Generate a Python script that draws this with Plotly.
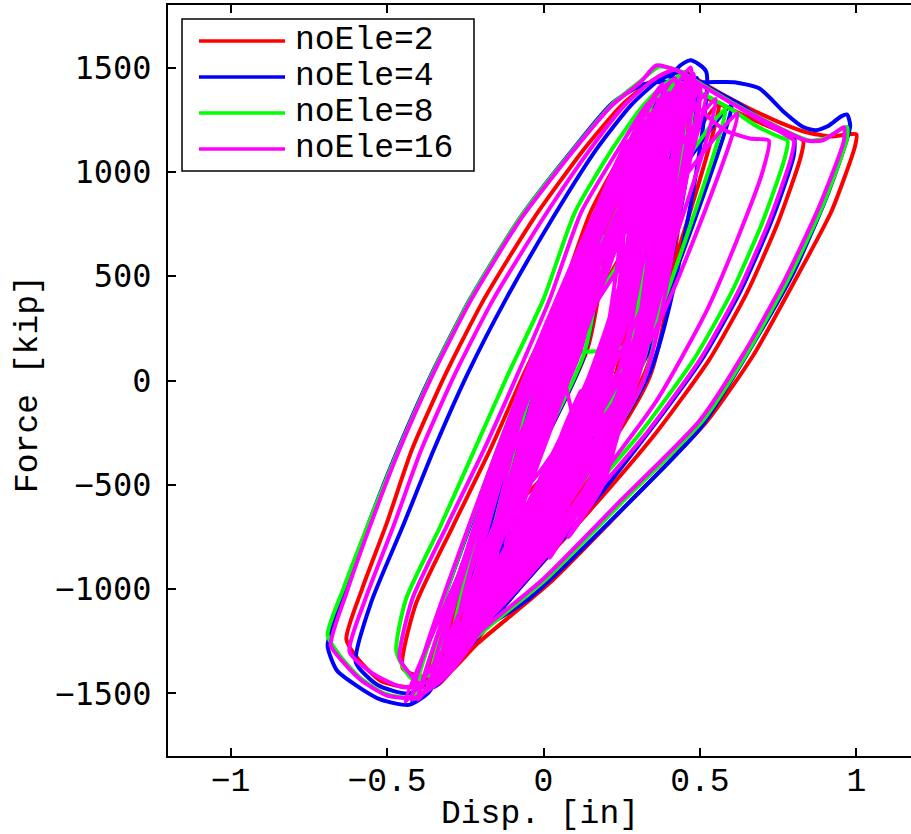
import plotly.graph_objects as go

# ---------------- data ----------------
series_names = ["noEle=2", "noEle=4", "noEle=8", "noEle=16"]
series_colors = ["#FF0000", "#0000FF", "#00FF00", "#FF00FF"]

# (disp [in], force [kip]) hysteresis paths
path_ele2 = [
    (0.00, 0), (0.12, 450), (0.20, 700), (0.14, 150), (-0.06, -450), (0.04, 200), (0.32, 1100),
    (0.24, 150), (-0.16, -900), (0.00, 100), (0.38, 1330), (0.29, 20), (-0.27, -1230), (-0.03, 20),
    (0.44, 1440), (0.33, 60), (-0.30, -1330),
    (-0.38, -1420), (-0.45, -1380), (-0.41, -1080), (-0.29, -700), (-0.17, -330), (-0.06, 40),
    (0.05, 390), (0.15, 805), (0.26, 1110), (0.35, 1320), (0.44, 1430), (0.50, 1370), (0.60, 1300),
    (0.70, 1230), (0.78, 1180), (0.83, 1150), (0.82, 1060), (0.75, 760), (0.65, 420), (0.53, 100),
    (0.36, -250), (0.15, -620), (-0.08, -1000), (-0.24, -1290), (-0.34, -1460),
    (-0.02, 60), (0.46, 1480), (0.34, 20), (-0.36, -1430), (0.01, 120), (0.35, 1320),
    (0.28, -30), (-0.20, -1100), (-0.32, -1380), (-0.42, -1470), (-0.52, -1440), (-0.59, -1340),
    (-0.63, -1240), (-0.58, -1000), (-0.50, -680), (-0.42, -330), (-0.31, 40), (-0.19, 390),
    (-0.03, 780), (0.13, 1110), (0.25, 1320), (0.34, 1430), (0.40, 1480), (0.47, 1460),
    (0.55, 1390), (0.65, 1310), (0.75, 1240), (0.84, 1190), (0.92, 1170), (0.97, 1180),
    (1.00, 1180), (0.995, 1120), (0.92, 810), (0.80, 470), (0.67, 120), (0.52, -200),
    (0.27, -590), (0.02, -970), (-0.21, -1260), (-0.30, -1400), (-0.38, -1480),
    (-0.04, 0), (0.40, 1380), (0.28, 0), (-0.22, -1120), (0.02, 150), (0.30, 1150), (0.20, 50),
    (-0.27, -1310), (0.03, 120), (0.47, 1420), (0.30, 80), (-0.14, -900), (0.07, 200),
    (0.36, 1260), (0.22, -20), (-0.24, -1230), (0.12, 250), (0.56, 1330), (0.36, 300),
    (0.18, -350), (-0.18, -1100), (0.14, -50), (0.43, 1380), (0.29, 100),
    (-0.10, -600), (0.05, 100), (0.15, 400),
]

path_ele4 = [
    (0.00, 0), (0.11, 420), (0.19, 680), (0.13, 120), (-0.07, -480), (0.03, 170), (0.31, 1080),
    (0.23, 120), (-0.17, -930), (-0.01, 80), (0.37, 1360), (0.28, -10), (-0.29, -1270), (-0.04, 10),
    (0.43, 1500), (0.47, 1535), (0.52, 1480), (0.34, 40), (-0.34, -1400),
    (-0.43, -1500), (-0.53, -1460), (-0.60, -1350), (-0.55, -1060), (-0.45, -700), (-0.35, -330),
    (-0.24, 40), (-0.12, 390), (0.03, 780), (0.17, 1110), (0.28, 1320), (0.37, 1440), (0.44, 1480),
    (0.52, 1410), (0.62, 1330), (0.70, 1250), (0.76, 1200), (0.80, 1170), (0.80, 1080),
    (0.73, 770), (0.63, 430), (0.51, 110), (0.34, -240), (0.13, -640), (-0.09, -1020),
    (-0.25, -1300), (-0.35, -1470),
    (-0.05, 30), (0.41, 1400), (0.29, 30), (-0.31, -1360),
    (-0.37, -1500), (-0.43, -1555), (-0.52, -1530), (-0.60, -1460), (-0.66, -1390), (-0.69, -1270),
    (-0.64, -1030), (-0.56, -690), (-0.465, -330), (-0.355, 40), (-0.235, 390), (-0.075, 780),
    (0.095, 1110), (0.22, 1330), (0.32, 1420), (0.42, 1435), (0.52, 1430), (0.61, 1430),
    (0.69, 1400), (0.77, 1285), (0.83, 1215), (0.87, 1200), (0.91, 1220), (0.95, 1265),
    (0.97, 1275), (0.98, 1220), (0.91, 900), (0.80, 520), (0.66, 150), (0.50, -230),
    (0.25, -620), (-0.05, -1050), (-0.24, -1240), (-0.35, -1450), (-0.42, -1540),
    (-0.03, 100), (0.39, 1350), (0.26, -30), (-0.24, -1150), (0.01, 150), (0.30, 1100),
    (0.21, 0), (-0.33, -1420), (0.05, 150), (0.49, 1450), (0.33, 120), (-0.11, -750),
    (0.08, 250), (0.42, 1300), (0.24, 40), (-0.20, -1150), (0.14, 300), (0.60, 1320),
    (0.38, 350), (0.20, -300), (-0.16, -1050), (0.16, 0), (0.46, 1420), (0.31, 150),
    (-0.12, -700), (0.04, 100), (0.12, 350),
]

path_ele8 = [
    (0.00, 0), (0.11, 430), (0.19, 690), (0.13, 130), (-0.07, -470), (0.03, 180), (0.31, 1070),
    (0.23, 130), (-0.19, -960), (-0.01, 90), (0.37, 1370), (0.28, 10), (-0.29, -1260), (-0.05, 10),
    (0.43, 1460), (0.31, 50), (-0.34, -1390),
    (-0.42, -1430), (-0.47, -1300), (-0.44, -1050), (-0.33, -700), (-0.22, -330), (-0.11, 40),
    (0.00, 390), (0.10, 805), (0.22, 1110), (0.32, 1320), (0.41, 1440), (0.50, 1380), (0.60, 1300),
    (0.68, 1220), (0.75, 1170), (0.78, 1150), (0.77, 1060), (0.70, 760), (0.60, 420), (0.48, 100),
    (0.31, -250), (0.10, -620), (-0.12, -1000), (-0.27, -1280), (-0.36, -1440),
    (-0.05, -20), (0.45, 1480), (0.32, 0), (-0.36, -1430), (-0.01, 80), (0.34, 1310),
    (0.25, -40), (-0.22, -1150), (-0.33, -1420), (-0.42, -1520), (-0.51, -1500), (-0.59, -1420),
    (-0.65, -1320), (-0.69, -1220), (-0.64, -1000), (-0.555, -670), (-0.46, -320), (-0.35, 50),
    (-0.23, 400), (-0.07, 790), (0.10, 1115), (0.22, 1325), (0.31, 1435), (0.37, 1505),
    (0.43, 1485), (0.51, 1415), (0.61, 1325), (0.71, 1245), (0.79, 1185), (0.85, 1150),
    (0.90, 1160), (0.94, 1195), (0.97, 1215), (0.97, 1160), (0.89, 830), (0.78, 480),
    (0.65, 130), (0.51, -190), (0.26, -570), (0.01, -950), (-0.22, -1240), (-0.32, -1420),
    (-0.41, -1520),
    (-0.03, 120), (0.40, 1390), (0.27, -10), (-0.34, -1400), (-0.06, -10), (0.31, 1210),
    (0.21, 10), (-0.18, -1000), (0.06, 200), (0.44, 1350), (0.31, 140), (-0.08, -650),
    (0.09, 300), (0.38, 1240), (0.26, 100), (-0.26, -1250), (0.13, 280), (0.58, 1300),
    (0.37, 320), (0.19, -320), (-0.20, -1100), (0.15, -20), (0.48, 1430), (0.33, 200),
    (0.03, 150), (0.14, 400),
]

path_ele16 = [
    (0.00, 0), (0.10, 400), (0.18, 650), (0.12, 150), (-0.08, -500), (0.02, 150), (0.30, 1050),
    (0.22, 150), (-0.18, -950), (-0.02, 100), (0.36, 1350), (0.27, 0), (-0.28, -1250),
    (-0.05, 0), (0.42, 1450), (0.30, 50), (-0.33, -1380), (-0.04, 50), (0.38, 1420),
    (0.28, 20), (-0.25, -1200),
    (-0.35, -1430), (-0.45, -1470), (-0.55, -1400), (-0.62, -1300), (-0.57, -1050), (-0.48, -700),
    (-0.39, -330), (-0.28, 40), (-0.16, 390), (0.00, 780), (0.15, 1110), (0.26, 1320),
    (0.35, 1440), (0.42, 1490), (0.50, 1420), (0.60, 1330), (0.70, 1240), (0.77, 1180),
    (0.80, 1150), (0.79, 1060), (0.72, 760), (0.62, 420), (0.50, 100), (0.33, -250),
    (0.12, -620), (-0.10, -1000), (-0.26, -1280), (-0.36, -1450),
    (-0.06, -50), (0.47, 1500), (0.32, 0), (-0.38, -1450), (0.00, 100), (0.33, 1300),
    (0.24, -50), (-0.30, -1350), (-0.03, 20), (0.45, 1430), (0.30, 80), (-0.22, -1150),
    (-0.01, 0), (0.33, 1250), (0.20, -30), (-0.26, -1300), (0.04, 150), (0.44, 1400),
    (0.26, 60), (-0.12, -800), (0.06, 50), (0.36, 1300), (0.14, -150), (-0.40, -1530),
    (-0.07, -100), (0.27, 1150), (0.17, 0), (-0.21, -1150), (0.02, 50), (0.48, 1470),
    (0.29, 20), (-0.30, -1400),
    (-0.41, -1520), (-0.50, -1510), (-0.58, -1440), (-0.64, -1350),
    (-0.68, -1270), (-0.63, -1020), (-0.55, -680), (-0.46, -330), (-0.35, 40), (-0.23, 390),
    (-0.07, 780), (0.10, 1110), (0.22, 1320), (0.31, 1430), (0.36, 1510), (0.42, 1490),
    (0.50, 1420), (0.60, 1330), (0.70, 1250), (0.78, 1190), (0.84, 1150), (0.89, 1150),
    (0.93, 1185), (0.96, 1215), (0.96, 1150), (0.88, 830), (0.77, 480), (0.64, 130),
    (0.50, -190), (0.25, -570), (0.00, -950), (-0.23, -1240), (-0.33, -1420), (-0.42, -1530),
    (-0.02, 150), (0.40, 1380), (0.27, -20), (-0.35, -1420), (-0.07, -20), (0.30, 1200),
    (0.20, 0), (-0.20, -1050),
    (0.09, 250), (0.39, 1320), (0.23, 0), (-0.16, -1000), (-0.02, -20), (0.41, 1380),
    (0.12, -200), (-0.44, -1540), (0.00, 0), (0.30, 1180), (0.19, 10), (-0.24, -1240),
    (0.07, 200), (0.50, 1420), (0.31, 100), (-0.10, -700), (0.10, 400), (0.35, 1230),
    (0.25, 200), (-0.05, -500), (0.05, 100), (0.26, 1000), (0.21, 150), (-0.28, -1330),
    (-0.04, -30), (0.45, 1460), (0.28, 0), (-0.37, -1480),
    (0.10, 100), (0.42, 1400), (0.20, 50), (-0.25, -1250), (0.13, 250), (0.46, 1450),
    (0.22, 200), (-0.20, -1150), (0.08, 0), (0.38, 1350), (0.18, 100), (-0.30, -1350),
    (0.15, 350), (0.44, 1420), (0.24, 300), (-0.18, -1100), (0.11, 150), (0.36, 1280),
    (0.17, -50), (-0.33, -1400), (0.16, 450), (0.55, 1350), (0.34, 350), (-0.14, -950),
    (0.12, 200), (0.40, 1370), (0.21, 150), (-0.27, -1280), (0.14, 300), (0.62, 1280),
    (0.36, 250), (-0.22, -1200), (0.06, 100), (0.43, 1400), (0.26, 250), (-0.16, -1050),
    (0.18, 500), (0.52, 1380), (0.30, 300), (-0.37, -1480),
    (0.12, -100), (0.44, 1400), (0.30, 150), (0.16, -450), (-0.20, -1150),
    (0.16, -50), (0.40, 1300), (0.28, 0), (0.12, -500), (-0.28, -1300),
    (0.14, 0), (0.47, 1450), (0.33, 300), (0.20, -250), (-0.15, -1000),
    (0.18, 100), (0.38, 1250), (0.26, -100), (0.10, -600), (-0.25, -1250),
    (0.10, -200), (0.45, 1420), (0.32, 100), (0.18, -350), (-0.18, -1100),
    (0.20, 200), (0.50, 1400), (0.29, -50), (0.14, -550), (-0.30, -1350),
    (0.13, -150), (0.42, 1350), (0.27, 50), (0.08, -700), (-0.22, -1200),
    (0.17, 50), (0.46, 1440), (0.31, 200), (0.15, -400), (-0.37, -1480),
    (-0.43, -1400), (-0.46, -1330), (-0.42, -1050), (-0.31, -700), (-0.19, -330),
    (-0.08, 40), (0.02, 390), (0.12, 805), (0.24, 1110), (0.33, 1320), (0.42, 1440),
    (0.50, 1300), (0.58, 1200), (0.66, 1160), (0.72, 1150), (0.70, 1000), (0.62, 680),
    (0.52, 330), (0.36, -100), (0.12, -580), (-0.12, -1000), (-0.27, -1300),
    (0.00, 0), (0.35, 1250), (0.22, 100), (-0.15, -900),
    (0.05, -600), (0.22, 300), (0.30, 650), (0.18, 0), (0.08, -450), (-0.05, -900),
    (0.10, -300), (0.25, 400), (0.15, -100), (0.02, -700), (0.17, -200), (0.32, 700),
    (0.20, -50), (0.06, -600), (0.13, -350), (0.27, 500), (0.12, -250), (-0.02, -800),
    (0.09, -400), (0.21, 200), (0.14, -150), (0.04, -650), (0.16, -300), (0.29, 550),
    (0.19, -100), (0.07, -500),
    (0.10, -700), (0.22, -250), (0.32, 300), (0.26, -100), (0.18, -450), (0.02, -850),
    (0.20, -350), (0.35, 500), (0.24, -250), (0.12, -650), (0.24, -150), (0.30, 200),
    (0.21, -400), (0.08, -750), (0.19, -500), (0.27, -50), (0.33, 400), (0.23, -300),
    (0.15, -550),
    (0.00, -700), (0.08, -300), (0.15, 0), (0.10, -200), (0.04, -450), (-0.05, -800),
    (0.06, -250), (0.12, -50), (0.07, -300), (0.02, -780), (0.09, -450), (0.14, -200),
    (0.05, -350), (0.01, -600), (0.11, -350), (0.05, 200), (0.25, 800),
    (0.15, 300), (0.05, 0),
]

series_paths = [path_ele2, path_ele4, path_ele8, path_ele16]

x_ticks = [-1, -0.5, 0, 0.5, 1]
x_tick_text = ["\u22121", "\u22120.5", "0", "0.5", "1"]
y_ticks = [-1500, -1000, -500, 0, 500, 1000, 1500]
y_tick_text = ["\u22121500", "\u22121000", "\u2212500", "0", "500", "1000", "1500"]

x_title = "Disp. [in]"
y_title = "Force [kip]"

# ---------------- figure ----------------
MONO = "Liberation Mono, Courier New, monospace"
SANSMONO = "DejaVu Sans Mono, monospace"

fig = go.Figure()
for name, color, path in zip(series_names, series_colors, series_paths):
    xs = [p[0] for p in path]
    ys = [p[1] for p in path]
    fig.add_trace(go.Scatter(
        x=xs, y=ys, mode="lines", name=name,
        line=dict(color=color, width=4, shape="spline", smoothing=0.6, simplify=False),
        showlegend=False, hoverinfo="skip",
    ))

W, H = 911, 834
ML, MR, MT, MB = 168, 0, 5, 78
PW, PH = W - ML - MR, H - MT - MB

def px_to_paper_x(px):
    return (px - ML) / PW

def py_to_paper_y(py):
    return (H - MB - py) / PH

# manual MATLAB-style legend
shapes = [dict(type="rect", xref="paper", yref="paper",
               x0=px_to_paper_x(182), x1=px_to_paper_x(474),
               y0=py_to_paper_y(171), y1=py_to_paper_y(19),
               line=dict(color="black", width=1.5), fillcolor="white", layer="above")]
annotations = []
row_y = [41, 77, 113, 149]
for name, color, ry in zip(series_names, series_colors, row_y):
    shapes.append(dict(type="line", xref="paper", yref="paper",
                       x0=px_to_paper_x(199), x1=px_to_paper_x(285),
                       y0=py_to_paper_y(ry), y1=py_to_paper_y(ry),
                       line=dict(color=color, width=3.6), layer="above"))
    annotations.append(dict(text=name, xref="paper", yref="paper",
                            x=px_to_paper_x(293), y=py_to_paper_y(ry),
                            xanchor="left", yanchor="middle", showarrow=False,
                            font=dict(family=MONO, size=33, color="black")))

# axis titles
annotations.append(dict(text=x_title, xref="paper", yref="paper",
                        x=px_to_paper_x(540), y=py_to_paper_y(814),
                        xanchor="center", yanchor="middle", showarrow=False,
                        font=dict(family=MONO, size=33, color="black")))
annotations.append(dict(text=y_title, xref="paper", yref="paper",
                        x=px_to_paper_x(28), y=py_to_paper_y(384),
                        xanchor="center", yanchor="middle", showarrow=False, textangle=-90,
                        font=dict(family=MONO, size=33, color="black")))

fig.update_layout(
    width=W, height=H,
    margin=dict(l=ML, r=MR, t=MT, b=MB, pad=0),
    paper_bgcolor="white", plot_bgcolor="white",
    shapes=shapes, annotations=annotations,
    showlegend=False,
)
fig.update_xaxes(
    range=[-1.2, 1.2 - 8 / 313.0], tickvals=x_ticks, ticktext=x_tick_text,
    showgrid=False, zeroline=False,
    showline=True, linecolor="black", linewidth=2, mirror="ticks",
    ticks="inside", ticklen=8, tickwidth=1.5, tickcolor="black",
    tickfont=dict(family=MONO, size=33, color="black"),
    ticklabelstandoff=-7,
)
fig.update_yaxes(
    range=[-1800, 1800], tickvals=y_ticks, ticktext=y_tick_text,
    showgrid=False, zeroline=False,
    showline=True, linecolor="black", linewidth=2, mirror=False,
    ticks="inside", ticklen=8, tickwidth=1.5, tickcolor="black",
    tickfont=dict(family=SANSMONO, size=32, color="black"),
    ticklabelstandoff=8,
)

fig.write_html("out.html")
